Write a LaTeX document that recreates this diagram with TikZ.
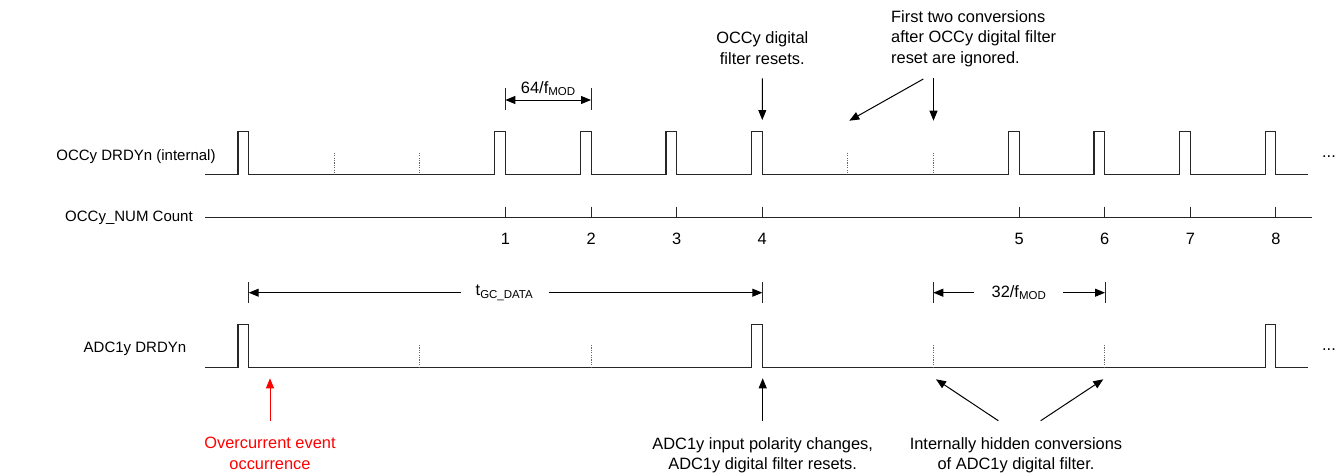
\documentclass[tikz,border=0pt]{standalone}
\usepackage{fontspec}
\setmainfont{Liberation Sans}
\usetikzlibrary{arrows.meta,calc}
\begin{document}
\begin{tikzpicture}[x=1pt,y=-1pt,
  wave/.style={line width=1.1pt, line join=miter, black!85},
  dotln/.style={line width=1pt, dash pattern=on 1.2pt off 1.2pt, black!60},
  tickln/.style={line width=1pt, black!85},
  lbl/.style={font=\fontsize{16.4}{20.5}\selectfont, inner sep=0pt},
  sig/.style={font=\fontsize{15}{18}\selectfont, inner sep=0pt},
  arr/.style={line width=1pt, -{Triangle[length=10pt,width=8pt]}},
  darr/.style={line width=1pt, {Triangle[length=10pt,width=8pt]}-{Triangle[length=10pt,width=8pt]}},
  redarr/.style={arr, red},
]
\useasboundingbox (0,0) rectangle (1341,474);
\def\fz{248.7}\def\per{85.6}\def\pw{10.7}
% ---------- OCCy DRDYn (internal)
\node[sig, anchor=base] (lab1) at (136,160.5) {OCCy DRDYn (internal)};
\draw[wave] (205,174.3)
  \foreach \k in {0,3,4,5,6,9,10,11,12}{
    -- ({\fz+\per*\k-\pw},174.3) -- ({\fz+\per*\k-\pw},131.7)
    -- ({\fz+\per*\k},131.7) -- ({\fz+\per*\k},174.3)}
  -- (1308.3,174.3);
\foreach \k/\n in {1/d1,2/d2,7/d7,8/d8}{
  \coordinate (\n) at ({\fz+\per*\k},152.7);
  \draw[dotln] (\n) -- ({\fz+\per*\k},174.3);
}
\coordinate (p6) at ({\fz+\per*6},131.7);
\node[lbl, anchor=base] (dots1) at (1329,157.5) {...};
% ---------- OCCy_NUM Count
\node[sig, anchor=base] (lab2) at (129,221.5) {OCCy\_NUM Count};
\draw[tickln] (205,217.3) -- (1311.7,217.3);
\foreach \k/\n in {3/1,4/2,5/3,6/4,9/5,10/6,11/7,12/8}{
  \draw[tickln] ({\fz+\per*\k},206.7) -- ({\fz+\per*\k},217.3);
  \node[lbl, anchor=base] (n\n) at ({\fz+\per*\k},244) {\n};
}
% ---------- 64/fMOD
\coordinate (m64L) at (505.3,100);
\coordinate (m64R) at (591,100);
\draw[tickln] (505.3,88.3) -- (505.3,110);
\draw[tickln] (591,88.3) -- (591,110);
\draw[darr] (m64L) -- (m64R);
\node[lbl, anchor=base] (t64) at (548.3,93) {64/f\textsubscript{MOD}};
% ---------- top annotations
\node[lbl, align=center, anchor=north] (occres) at (762.3,31.5) {OCCy digital\\filter resets.};
\draw[arr, shorten <=14pt, shorten >=11.7pt] (occres.south) -- (p6);
\node[lbl, align=left, anchor=north west] (first) at (891,10.3) {First two conversions\\after OCCy digital filter\\reset are ignored.};
\coordinate (ign1) at (849.3,120.7);
\coordinate (ign1s) at (923.3,79);
\draw[arr] (ign1s) -- (ign1);
\draw[arr, shorten <=11pt, shorten >=32pt] (first.south -| d8) -- (d8);
% ---------- tGC_DATA and 32/fMOD
\coordinate (tgcL) at (248.7,292.7);
\coordinate (tgcR) at (762.3,292.7);
\draw[tickln] (248.7,281.7) -- (248.7,303.3);
\draw[tickln] (762.3,281.7) -- (762.3,303.3);
\node[lbl] (tgc) at (504.5,292.7) {t\textsubscript{GC\_DATA}};
\draw[arr, shorten <=15pt] (tgc.west) -- (tgcL);
\draw[arr, shorten <=16pt] (tgc.east) -- (tgcR);
\coordinate (m32L) at (933.3,292.7);
\coordinate (m32R) at (1105,292.7);
\draw[tickln] (933.3,281.7) -- (933.3,303.3);
\draw[tickln] (1105,281.7) -- (1105,303.3);
\node[lbl] (t32) at (1019,292.7) {32/f\textsubscript{MOD}};
\draw[arr, shorten <=17.5pt] (t32.west) -- (m32L);
\draw[arr, shorten <=16.5pt] (t32.east) -- (m32R);
% ---------- ADC1y DRDYn
\node[sig, anchor=base] (lab3) at (135,352.5) {ADC1y DRDYn};
\draw[wave] (205,367.3)
  \foreach \k in {0,6,12}{
    -- ({\fz+\per*\k-\pw},367.3) -- ({\fz+\per*\k-\pw},324.3)
    -- ({\fz+\per*\k},324.3) -- ({\fz+\per*\k},367.3)}
  -- (1308.3,367.3);
\foreach \k/\n in {2/e2,4/e4,8/e8,10/e10}{
  \coordinate (\n) at ({\fz+\per*\k},345);
  \draw[dotln] (\n) -- ({\fz+\per*\k},367.3);
}
\node[lbl, anchor=base] (dots2) at (1329,350.5) {...};
% ---------- bottom annotations
\node[lbl, align=center, anchor=north, text=red] (oc) at (270,437) {Overcurrent event\\occurrence};
\coordinate (ocT) at (270,378.3);
\draw[redarr, shorten <=16.3pt] (oc.north) -- (ocT);
\node[lbl, align=center, anchor=north] (pol) at (762.7,437) {ADC1y input polarity changes,\\ADC1y digital filter resets.};
\coordinate (polT) at (762.7,378.3);
\draw[arr, shorten <=16.3pt] (pol.north) -- (polT);
\node[lbl, align=center, anchor=north] (hid) at (1016,437) {Internally hidden conversions\\of ADC1y digital filter.};
\coordinate (hidL) at (936,379.3);
\coordinate (hidR) at (1103.3,379.3);
\coordinate (hidLs) at (998.3,420.7);
\coordinate (hidRs) at (1040.7,420.7);
\draw[arr] (hidLs) -- (hidL);
\draw[arr] (hidRs) -- (hidR);
\end{tikzpicture}
\end{document}
